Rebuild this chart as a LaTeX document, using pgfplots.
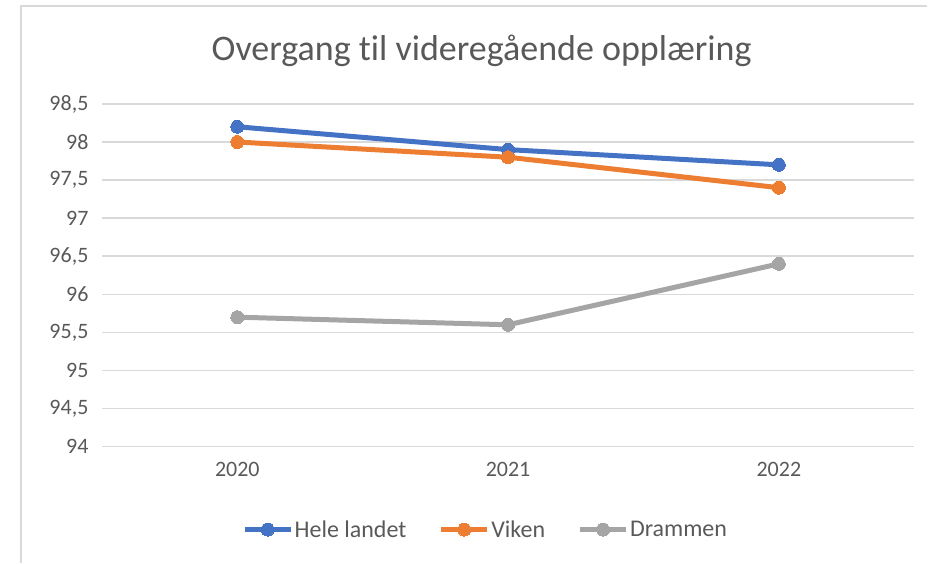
\documentclass[border=0pt]{standalone}
\usepackage{pgfplots}
\pgfplotsset{compat=1.18}
\usepackage{fontspec}
\setmainfont{Carlito}[Ligatures=NoCommon]
\definecolor{blu}{HTML}{4472C4}
\definecolor{ora}{HTML}{ED7D31}
\definecolor{gry}{HTML}{A5A5A5}
\definecolor{txt}{HTML}{595959}
\definecolor{grd}{HTML}{D9D9D9}
\begin{document}
\begin{tikzpicture}
\begin{axis}[
  at={(0,0)},anchor=south west,
  scale only axis,width=813bp,height=343bp,
  xmin=-0.5,xmax=2.5,ymin=94,ymax=98.5,
  xtick={0,1,2},xticklabels={2020,2021,2022},
  ytick={94,94.5,...,98.5},
  axis line style={draw=none},
  major tick length=0pt,
  ymajorgrids,grid style={grd,line width=1.5bp},
  tick label style={font=\fontsize{22bp}{24bp}\selectfont,text=txt},
  /pgf/number format/.cd,use comma,1000 sep={},assume math mode=true,
  /pgfplots/.cd,
  yticklabel style={xshift=-10bp},
  xticklabel style={yshift=-12bp},
  legend columns=3,
  legend style={at={(0.472,-0.242)},anchor=center,draw=none,fill=none,
    font=\fontsize{24bp}{26bp}\selectfont,text=txt,
    nodes={inner xsep=1.5bp},
    /tikz/every even column/.append style={column sep=31bp}},
  legend image code/.code={\draw[#1,mark repeat=2,mark phase=2]
    plot coordinates {(0bp,0bp) (23bp,0bp) (46bp,0bp)};},
  every axis plot/.append style={line width=5bp,mark=*,mark size=6.5bp,
    mark options={solid,line width=0pt}},
  clip=false,
]
\addplot[blu] coordinates {(0,98.2)(1,97.9)(2,97.7)};
\addlegendentry{Hele landet}
\addplot[ora] coordinates {(0,98.0)(1,97.8)(2,97.4)};
\addlegendentry{Viken}
\addplot[gry] coordinates {(0,95.7)(1,95.6)(2,96.4)};
\addlegendentry{Drammen}
\end{axis}
\node[text=txt,font=\fontsize{36bp}{40bp}\selectfont] at (380bp,396bp)
  {Overgang til videregående opplæring};
\draw[grd,line width=1.5bp] (-81bp,-116bp) -- (-81bp,441bp) -- (826bp,441bp);
\path (-102bp,-116bp) rectangle (826bp,447bp);
\end{tikzpicture}
\end{document}
